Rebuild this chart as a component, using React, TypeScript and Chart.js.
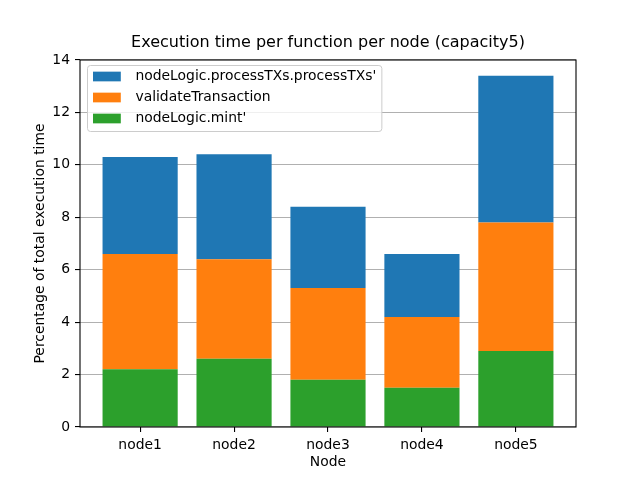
import React, { useEffect, useRef } from "react";
import { Chart, registerables } from "chart.js";

Chart.register(...registerables);

const categories = ["node1", "node2", "node3", "node4", "node5"];
const mintValues = [2.2, 2.6, 1.8, 1.5, 2.9];
const validateValues = [4.4, 3.8, 3.5, 2.7, 4.9];
const processValues = [3.7, 4.0, 3.1, 2.4, 5.6];
const seriesLabels = [" nodeLogic.mint'", " validateTransaction", " nodeLogic.processTXs.processTXs'"];
const seriesColors = ["#2ca02c", "#ff7f0e", "#1f77b4"];
const titleText = "Execution time per function per node (capacity5)";
const xTitle = "Node";
const yTitle = "Percentage of total execution time";

const FONT = '"DejaVu Sans", sans-serif';

const decorPlugin = {
  id: "mplDecor",
  afterDraw(chart: any) {
    const ctx = chart.ctx as CanvasRenderingContext2D;
    const a = chart.chartArea;
    ctx.save();
    // frame
    ctx.strokeStyle = "#000";
    ctx.lineWidth = 1.1;
    ctx.strokeRect(a.left, a.top, a.right - a.left, a.bottom - a.top);
    // title
    const cx = (a.left + a.right) / 2;
    ctx.fillStyle = "#000";
    ctx.textAlign = "center";
    ctx.textBaseline = "middle";
    ctx.font = `16px ${FONT}`;
    ctx.fillText(titleText, cx, 43);
    // axis titles
    ctx.font = `13.9px ${FONT}`;
    ctx.fillText(xTitle, cx, 462);
    ctx.save();
    ctx.translate(40, (a.top + a.bottom) / 2);
    ctx.rotate(-Math.PI / 2);
    ctx.fillText(yTitle, 0, 0);
    ctx.restore();
    // legend (reverse order)
    const ds = chart.data.datasets.slice().reverse();
    ctx.font = `13.9px ${FONT}`;
    const boxX = 87.5;
    const boxY = 65.5;
    const textX = 131;
    let maxW = 0;
    ds.forEach((d: any) => {
      maxW = Math.max(maxW, ctx.measureText(d.label).width);
    });
    const boxW = textX + maxW + 5.6 - boxX;
    const boxH = 66;
    const r = 3;
    ctx.beginPath();
    ctx.moveTo(boxX + r, boxY);
    ctx.lineTo(boxX + boxW - r, boxY);
    ctx.quadraticCurveTo(boxX + boxW, boxY, boxX + boxW, boxY + r);
    ctx.lineTo(boxX + boxW, boxY + boxH - r);
    ctx.quadraticCurveTo(boxX + boxW, boxY + boxH, boxX + boxW - r, boxY + boxH);
    ctx.lineTo(boxX + r, boxY + boxH);
    ctx.quadraticCurveTo(boxX, boxY + boxH, boxX, boxY + boxH - r);
    ctx.lineTo(boxX, boxY + r);
    ctx.quadraticCurveTo(boxX, boxY, boxX + r, boxY);
    ctx.closePath();
    ctx.fillStyle = "rgba(255,255,255,0.8)";
    ctx.fill();
    ctx.strokeStyle = "#cccccc";
    ctx.lineWidth = 1;
    ctx.stroke();
    ds.forEach((d: any, i: number) => {
      const cy = 76.5 + i * 21;
      ctx.fillStyle = d.backgroundColor;
      ctx.fillRect(93, cy - 4.85, 27.8, 9.7);
      ctx.fillStyle = "#000";
      ctx.textAlign = "left";
      ctx.textBaseline = "middle";
      ctx.fillText(d.label, textX, cy);
    });
    ctx.restore();
  },
};

export default function App() {
  const ref = useRef<HTMLCanvasElement | null>(null);
  useEffect(() => {
    document.body.style.margin = "0";
    if (!ref.current) return;
    const seriesValues = [mintValues, validateValues, processValues];
    const chart = new Chart(ref.current, {
      type: "bar",
      data: {
        datasets: seriesValues.map((vals, s) => ({
          label: seriesLabels[s],
          data: vals.map((v, i) => ({ x: i, y: v })),
          backgroundColor: seriesColors[s],
          borderWidth: 0,
          inflateAmount: 0,
          categoryPercentage: 1,
          barPercentage: 0.8,
        })),
      },
      options: {
        animation: false,
        responsive: false,
        layout: { padding: { left: 0, right: 64, top: 60, bottom: 0 } },
        plugins: {
          legend: { display: false },
          title: { display: false },
          tooltip: { enabled: false },
        },
        scales: {
          x: {
            type: "linear",
            stacked: true,
            min: -0.64,
            max: 4.64,
            offset: false,
            afterBuildTicks: (scale: any) => {
              scale.ticks = categories.map((_, i) => ({ value: i }));
            },
            afterFit: (scale: any) => {
              scale.height = 53;
            },
            ticks: {
              callback: (v: any) => categories[v as number] ?? "",
              color: "#000",
              font: { family: FONT, size: 13.9 },
              padding: 5,
              maxRotation: 0,
              autoSkip: false,
            },
            grid: {
              offset: false,
              drawOnChartArea: false,
              drawTicks: true,
              tickLength: 5,
              tickColor: "#000",
              lineWidth: 1.1,
            },
            border: { display: false },
          },
          y: {
            stacked: true,
            min: 0,
            max: 14,
            z: 1,
            afterFit: (scale: any) => {
              scale.width = 80;
            },
            ticks: {
              stepSize: 2,
              color: "#000",
              font: { family: FONT, size: 13.9 },
              padding: 5,
            },
            grid: {
              color: "#b0b0b0",
              lineWidth: 1.1,
              tickLength: 5,
              tickColor: "#000",
            },
            border: { display: false },
          },
        },
      },
      plugins: [decorPlugin],
    } as any);
    return () => chart.destroy();
  }, []);
  return <canvas ref={ref} width={640} height={480} style={{ display: "block" }} />;
}
